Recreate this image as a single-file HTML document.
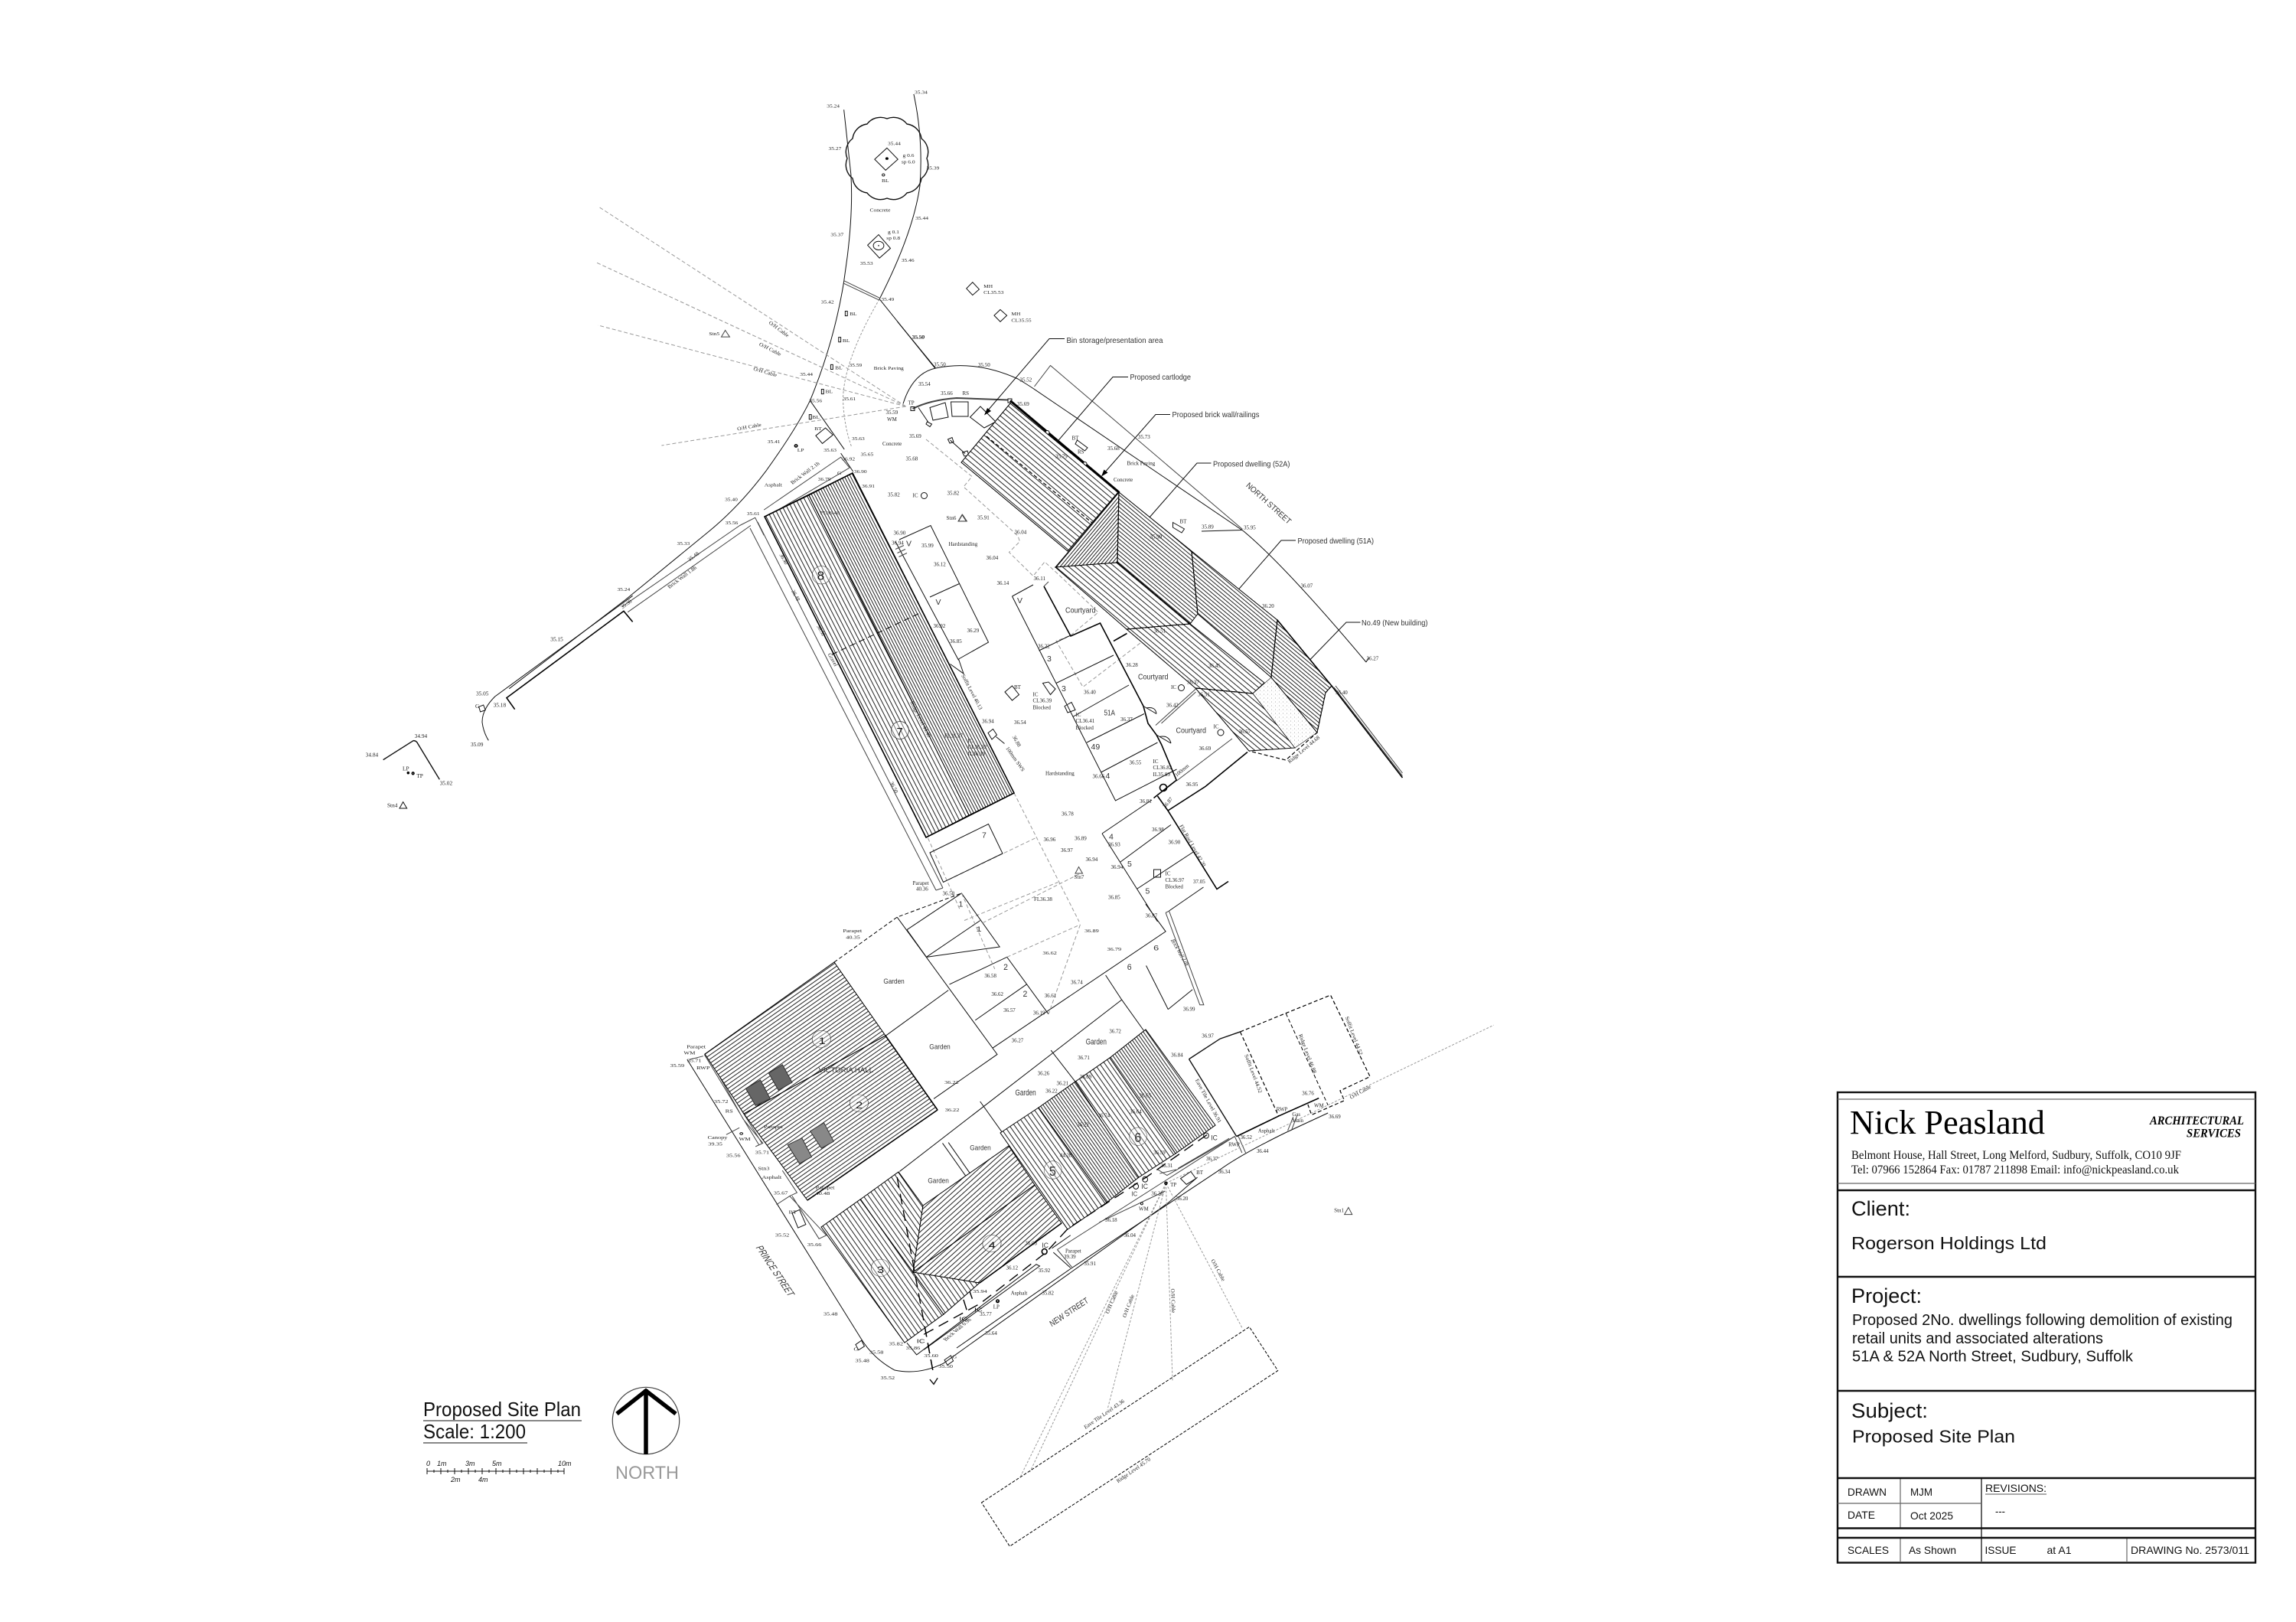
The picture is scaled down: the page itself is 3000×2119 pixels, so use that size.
<!DOCTYPE html>
<html><head><meta charset="utf-8"><style>
html,body{margin:0;padding:0;background:#fff}
svg{display:block}
text{font-family:"Liberation Serif",serif;fill:#222}
.sans{font-family:"Liberation Sans",sans-serif;fill:#111}
.bs text{font-family:"Liberation Sans",sans-serif;fill:#333}
.g *{vector-effect:non-scaling-stroke}
.l{fill:none;stroke:#111;stroke-width:1}
.b{fill:none;stroke:#000;stroke-width:1.6}
.m{fill:none;stroke:#444;stroke-width:1}
.d{fill:none;stroke:#999;stroke-width:1;stroke-dasharray:5 3}
.c{fill:none;stroke:#999;stroke-width:1;stroke-dasharray:3 2}
.k{fill:none;stroke:#000;stroke-width:1.2;stroke-dasharray:5 3}
.h{fill:none;stroke:#000;stroke-width:1.4;stroke-dasharray:14 8}
.r{stroke:#000;stroke-width:1}
</style></head><body>
<svg xmlns="http://www.w3.org/2000/svg" width="3000" height="2119" viewBox="0 0 3000 2119">
<defs>
<pattern id="a63" patternUnits="userSpaceOnUse" width="5" height="5" patternTransform="rotate(-27)"><rect width="5" height="5" fill="#fff"/><rect width="1" height="5" fill="#222"/></pattern>
<pattern id="a63d" patternUnits="userSpaceOnUse" width="3.5" height="3.5" patternTransform="rotate(-27)"><rect width="3.5" height="3.5" fill="#fff"/><rect width="1" height="3.5" fill="#222"/></pattern>
<pattern id="a40" patternUnits="userSpaceOnUse" width="5.5" height="5.5" patternTransform="rotate(-50)"><rect width="5.5" height="5.5" fill="#fff"/><rect width="1" height="5.5" fill="#222"/></pattern>
<pattern id="a40d" patternUnits="userSpaceOnUse" width="4" height="4" patternTransform="rotate(-50)"><rect width="4" height="4" fill="#fff"/><rect width="1" height="4" fill="#222"/></pattern>
<pattern id="b40" patternUnits="userSpaceOnUse" width="3.5" height="3.5" patternTransform="rotate(40)"><rect width="3.5" height="3.5" fill="#fff"/><rect width="1" height="3.5" fill="#222"/></pattern>
<pattern id="h35" patternUnits="userSpaceOnUse" width="4.5" height="4.5" patternTransform="rotate(55)"><rect width="4.5" height="4.5" fill="#fff"/><rect width="1" height="4.5" fill="#222"/></pattern>
<pattern id="s54" patternUnits="userSpaceOnUse" width="5.5" height="5.5" patternTransform="rotate(-35)"><rect width="5.5" height="5.5" fill="#fff"/><rect width="1" height="5.5" fill="#222"/></pattern>
<pattern id="s54d" patternUnits="userSpaceOnUse" width="3.6" height="3.6" patternTransform="rotate(-35)"><rect width="3.6" height="3.6" fill="#fff"/><rect width="1" height="3.6" fill="#222"/></pattern>
<pattern id="v48" patternUnits="userSpaceOnUse" width="5" height="5" patternTransform="rotate(48)"><rect width="5" height="5" fill="#fff"/><rect width="1" height="5" fill="#222"/></pattern>
<pattern id="st" patternUnits="userSpaceOnUse" width="5" height="5"><rect width="5" height="5" fill="#fff"/><circle cx="1.5" cy="2" r=".5" fill="#888"/><circle cx="4" cy="4" r=".4" fill="#aaa"/></pattern>
</defs>

<!-- Z2 lines -->
<g class="g" transform="translate(450 100) scale(.574 .51)">
<path class="l" d="M1137,85 L1153,250 Q1158,340 1145,460 L1137,525 Q1115,680 1060,830 Q1030,900 960,1010 Q900,1100 830,1165 L640,1340 L375,1568"/>
<path class="l" d="M1296,45 Q1318,160 1310,280 Q1295,400 1218,570 L1345,748"/>
<path class="c" d="M1218,570 Q1135,730 1135,830 Q1138,900 1155,950"/>
<path class="m" d="M1137,523 L1218,567 M1137,530 L1218,573"/>
<path class="l" d="M1060,830 L1138,955 M1130,965 L1158,1012"/>
<path class="m" d="M955,1110 L1130,975 L1150,1002 M965,1125 L1150,1002"/>
<path class="m" d="M645,1372 L925,1150 M632,1358 L900,1150 M900,1150 L935,1130 L955,1175"/>
<path class="d" d="M1278,845 L578,333 M1278,845 L575,477 M1278,845 L577,637 M1278,845 L722,945"/>
<path class="l" d="M1235,183 L1260,212 L1232,240 L1207,212Z M1216,405 L1243,440 L1218,465 L1191,432Z M1430,527 L1445,545 L1430,560 L1416,543Z M1493,597 L1508,612 L1493,628 L1479,612Z M1073,920 L1095,900 L1112,918 L1088,940Z"/>
<ellipse cx="1216" cy="433" rx="12" ry="11" class="l"/><circle cx="1235" cy="210" r="3.5" fill="#000"/><circle cx="1216" cy="433" r="1.5" fill="#000"/>
<circle cx="1227" cy="252" r="3" class="l"/><circle cx="1028" cy="946" r="3" class="b"/>
<path class="l" d="M1140,601h5v12h-5z M1125,668h5v12h-5z M1107,738h5v12h-5z M1086,801h5v12h-5z M1058,866h5v12h-5z"/>
<path class="m" d="M867,650 L877,667 L858,667Z M1407,1122 L1417,1139 L1398,1139Z"/>
</g>
<path class="l" d="M1107,207 A22,22 0 0 1 1114,181 A22,22 0 0 1 1133,162 A22,22 0 0 1 1159,155 A22,22 0 0 1 1185,162 A22,22 0 0 1 1204,181 A22,22 0 0 1 1211,207 A22,22 0 0 1 1204,233 A22,22 0 0 1 1185,252 A22,22 0 0 1 1159,259 A22,22 0 0 1 1133,252 A22,22 0 0 1 1114,233 A22,22 0 0 1 1107,207Z" style="stroke-width:1.4"/>
<!-- wall beside building 7/8 -->
<path class="m" d="M980,690 L1223,1163 M990,682 L1232,1160 M1223,1163 L1232,1160"/>

<!-- Z8 lines -->
<g class="g" transform="translate(450 780) scale(.3333)">
<path class="l" d="M1130,-5 L590,390 Q540,440 540,490 Q545,530 565,562"/>
<path class="b" d="M1130,97 L1095,55 L636,395 L668,440"/>
<path class="l" style="stroke-width:1.4" d="M152,638 L270,563 Q282,562 288,575 L373,715"/>
<path class="l" d="M527,430 L545,423 L553,443 L533,450Z M230,803 L245,828 L216,828Z"/>
<circle cx="250" cy="689" r="3" class="b"/><circle cx="269" cy="691" r="4" class="b"/>
</g>

<!-- Z7 lines -->
<g class="g" transform="translate(1150 420) scale(.5)">
<path class="l" d="M45,0 L145,122 M60,215 Q85,135 145,122 Q250,100 360,150 Q385,165 400,175 L950,548 Q1060,640 1270,890 M840,548 L945,545 M1270,890 L1277,878"/>
<path class="m" d="M403,170 L445,115 L947,543"/>
<path class="m" style="stroke-width:2" d="M85,228 Q130,205 200,200 L335,205"/>
<path class="b" style="stroke-width:3" d="M340,207 L625,447"/>
<path class="l" fill="#fff" d="M80,223h10v10h-10z M334,202h10v10h-10z"/>
<circle cx="437" cy="290" r="5" fill="#fff" stroke="#000"/><circle cx="535" cy="372" r="5" fill="#fff" stroke="#000"/>
<path class="l" d="M100,225 L125,262 M123,262 L135,268 L130,275 L120,268Z M183,310 L222,345 M177,308 L188,303 L192,315 L182,318Z M215,342 L228,338 L232,350 L220,352Z M130,225 L170,212 L178,250 L138,258Z M185,210 L230,210 L230,248 L188,248Z M262,222 L302,262 L272,278 L235,250Z M515,310 L542,330 L535,338 L510,320Z M765,525 L795,542 L788,552 L765,538Z"/>
<path class="d" d="M120,308 L240,405 L218,432 L360,560 L365,575 L337,603 L400,665 L430,628 L465,660 L570,760 L498,820 L460,835 L530,955 L680,840 M165,1465 L405,1350 M350,1232 L520,1568 M125,1350 L210,1540 M220,1565 L465,1465"/>
<path class="b" d="M428,692 L498,822 L575,788 L688,1005 L700,1050 L722,1080 L735,1105 L775,1200 M610,835 L645,815"/>
<path class="m" d="M440,680 L428,692 M720,1055 L825,960 M775,1200 L920,1090 M735,1050 L825,968"/>
<path class="l" d="M345,718 L615,1252 L775,1170 M345,718 L400,688 M415,860 L498,820 M460,945 L610,872 M505,1032 L650,950 M540,1100 L690,1025 M577,1178 L725,1100"/>
<path class="l" d="M695,1010 Q720,1005 722,1025 M688,1005 L722,1025 M730,1085 Q755,1080 760,1102 M722,1080 L760,1102"/>
<circle cx="740" cy="1218" r="9" class="b"/><path class="b" d="M715,1245 L775,1198"/>
<path class="b" d="M960,1125 L850,1215 L752,1278 M725,1240 L752,1278 L880,1483 L910,1463"/>
<path class="l" d="M580,1338 L710,1250 M580,1338 L725,1568 M628,1412 L760,1315 M672,1482 L820,1385 M755,1540 L845,1478"/>
<path class="l" d="M130,1388 L283,1313 L320,1390 L165,1465Z"/>
<path class="l" d="M50,570 L132,533 L283,838 L205,882 M130,720 L207,685 M205,882 L218,920 L183,895 M40,575 L205,885"/>
<path class="m" d="M40,595 L62,585 M45,605 L66,595 M49,615 L70,605"/>
<path class="l" d="M425,945 L445,975 L458,960 L440,942Z M482,1005 L500,995 L510,1015 L490,1022Z M326,968 L345,952 L363,975 L345,990Z M282,1075 L295,1065 L305,1080 L292,1092Z M715,1432h18v20h-18z M303,1085 L325,1103"/>
<path class="m" d="M519,1425 L529,1442 L510,1442Z M214,505 L225,522 L204,522Z"/>
<circle cx="115" cy="455" r="8" class="l"/><circle cx="787" cy="957" r="8" class="l"/><circle cx="890" cy="1074" r="8" class="l"/>
<path class="l" d="M275,240 L442,45 L482,45 M445,335 L608,145 L648,145 M582,400 L720,243 L758,243 M688,530 L828,370 L865,370 M908,733 L1048,572 L1086,572 M1098,910 L1218,786 L1255,786"/>
<path fill="#000" d="M272,245 L280,226 L290,234Z M440,342 L447,322 L457,330Z M578,405 L585,387 L595,395Z M684,535 L692,515 L702,523Z M904,738 L912,718 L922,726Z M1095,913 L1103,893 L1113,901Z"/>
<path class="b" d="M1180,952 L1365,1192"/><path class="m" d="M1190,952 L1365,1180 M1186,956 L1365,1187"/>
</g>

<!-- Z4 lines -->
<g class="g" transform="translate(850 1150) scale(.638 .446)">
<path class="k" d="M376,240 L505,108 L637,38" style="stroke-width:1"/>
<path class="l" d="M505,108 L710,510 L580,640 M610,322 L482,455 M525,145 L637,38 L715,195 L565,225 M525,145 L565,225 L675,118 M612,305 L730,225 L815,392 M665,410 L770,305 M700,492 L1055,150 L1014,70 M1015,250 L1060,378 M932,278 L965,350 M820,498 L870,590 M675,648 L720,738 M965,350 L1010,440 M510,853 L965,350 M598,770 L645,865 M610,768 L655,860 M1060,378 L1110,320"/>
<path class="m" d="M1055,95 L1125,365 L1133,365 L1062,90 L1055,95"/>
<path class="d" d="M637,38 L705,260 M680,125 L880,-20 M880,130 L815,392 M730,225 L880,130"/>
<path class="l" d="M75,525 L260,950 L430,1340 Q455,1400 500,1435 Q550,1450 600,1415 L1060,945 L1120,870"/>
<path class="m" d="M108,515 L80,525 M120,520 L228,770 M110,510 L222,775 M190,700 L230,770 L215,780 M270,850 L300,915 L285,925 L360,1040 L345,1050 L290,925 M258,950 L285,925 M120,520 L190,700 M155,745 L182,725"/>
<path class="l" d="M525,1355 L545,1390 L790,1125 L797,1130 L560,1375"/>
<path class="h" d="M505,870 L580,1450 M600,1040 L650,1270 M640,1150 L660,1230 M438,1155 L560,1330"/>
<path class="l" style="stroke-width:1.4" d="M572,1462 L580,1476 L588,1458"/>
<path class="l" d="M860,1135 L825,1090 M822,1078 L860,1040 M290,975 L305,965 L318,1008 L302,1018Z M420,1360 L432,1348 L438,1365 L426,1376Z M602,1405 L615,1392 L620,1408 L608,1420Z"/>
<circle cx="711" cy="1232" r="3" class="l"/><circle cx="186" cy="742" r="3" class="l"/>
</g>

<!-- Z5 lines -->
<g class="g" transform="translate(1250 1250) scale(.478 .51)">
<path class="l" d="M0,1002 L310,800 L720,545 Q780,505 900,450 L1015,400"/>
<path class="m" d="M275,750 L760,460 M275,750 L315,795 M780,502 L760,460 M790,502 L770,460 M905,445 L920,410 M915,445 L930,408"/>
<path class="l" style="stroke-width:1.4" d="M635,262 L720,210 L775,192 M635,262 L765,460"/>
<path class="b" d="M765,460 L880,408 L990,362"/>
<path class="k" d="M775,192 L1022,98 L1130,307 L1048,343 L1060,368 L970,405 L960,378"/>
<path class="k" d="M775,192 L880,408" style="stroke-width:1.2"/>
<path class="k" d="M900,145 L1015,380" style="stroke-width:1"/>
<path class="k" d="M68,1398 L800,948 L878,1060 L145,1510Z" style="stroke-width:1;stroke-dasharray:4 2"/>
<path class="c" d="M572,580 L175,1330 M572,580 L200,1320 M572,580 L412,1160 M572,580 L590,1085 M572,580 L780,950 M572,580 L1468,175"/>
<path class="m" d="M550,545 L575,560 L760,460 M555,555 L600,545 M390,680 L570,600 M605,542 L745,465"/>
<path class="l" d="M612,568 L640,550 L654,568 L628,583Z"/>
<circle cx="572" cy="580" r="3" class="b"/><circle cx="506" cy="632" r="3" class="l"/><circle cx="112" cy="882" r="3.5" class="b"/>
<circle cx="240" cy="755" r="7" class="b"/><circle cx="515" cy="570" r="7" class="l"/><circle cx="490" cy="588" r="7" class="l"/><circle cx="682" cy="458" r="7" class="l"/>
<path class="m" d="M1071,642 L1081,660 L1060,660Z"/>
</g>

<!-- Roofs -->
<g class="r">
<polygon fill="url(#a63)" points="999,675 1057,647 1266,1065 1210,1094"/>
<polygon fill="url(#a63d)" points="1057,647 1114,618 1325,1036 1266,1065"/>
<polygon fill="url(#a40)" points="1320,527 1461,643 1395,720 1256,604"/>
<polygon fill="url(#b40)" points="1462,643 1379,741 1460,735"/>
<polygon fill="url(#a40d)" points="1462,643 1557,720 1565,802 1555,815 1460,735"/>
<polygon fill="url(#a40)" points="1379,741 1460,735 1555,815 1472,822"/>
<polygon fill="url(#a40d)" points="1557,720 1669,810 1661,885 1565,802"/>
<polygon fill="url(#a40)" points="1472,822 1555,815 1652,892 1637,906 1562,899"/>
<polygon fill="url(#a40)" points="1562,899 1637,906 1692,977 1632,981"/>
<polygon fill="url(#st)" stroke-width=".6" points="1637,906 1661,885 1721,957 1692,977"/>
<polygon fill="url(#a40d)" points="1669,810 1740,896 1732,905 1721,957 1661,885"/>
<polygon fill="url(#h35)" points="1090,1257 1157,1353 972,1455 921,1377"/>
<polygon fill="url(#h35)" points="1157,1353 1225,1450 1055,1568 972,1455"/>
<polygon fill="url(#s54)" points="1073,1603 1124,1567 1233,1717 1182,1754"/>
<polygon fill="url(#s54)" points="1124,1567 1174,1531 1206,1575 1193,1662 1280,1676 1233,1717"/>
<polygon fill="url(#v48)" points="1206,1575 1318,1497 1352,1548 1193,1662"/>
<polygon fill="url(#v48)" points="1193,1662 1352,1548 1387,1598 1280,1676"/>
<polygon fill="url(#s54)" points="1307,1480 1357,1447 1446,1571 1395,1606"/>
<polygon fill="url(#s54d)" points="1357,1447 1405,1413 1488,1538 1446,1571"/>
<polygon fill="url(#s54)" points="1405,1413 1450,1382 1536,1507 1488,1538"/>
<polygon fill="url(#s54d)" points="1450,1382 1497,1345 1588,1470 1536,1507"/>
</g>
<path class="k" d="M1740,896 L1732,905 L1721,957 L1680,993 L1632,981"/>
<path class="b" d="M1669,810 L1740,896 M999,675 L1114,618 L1325,1036 L1210,1094Z M1225,1450 L1055,1568 M1157,1353 L1225,1450 M1280,1676 L1387,1598"/>
<path fill="none" stroke="#000" stroke-width="1" stroke-dasharray="8 5" d="M1087,855 L1206,799"/>
<path class="k" d="M1289,570 L1427,683 M1462,643 L1460,735 M1557,720 L1565,802 M1669,810 L1661,885 M1460,735 L1555,815 M1562,899 L1637,906 M1472,822 L1555,815"/>

<!-- Skylights and heavy drain dashes -->
<g class="g" transform="translate(850 1150) scale(.638 .446)" stroke="#333">
<polygon fill="#666" points="195,610 225,585 245,640 215,660"/>
<polygon fill="#666" points="242,565 270,540 290,592 262,615"/>
<polygon fill="#888" points="281,775 310,755 330,810 305,830"/>
<polygon fill="#888" points="327,735 355,710 375,765 350,785"/>
<path class="h" d="M560,1330 L675,1240 L810,1090 L855,1020 L1015,870 L1140,745"/>
<path class="h" d="M505,870 L580,1450"/>
</g>

<!-- Z2 text -->
<g transform="translate(450 100) scale(.574 .51)" font-size="13">
<text x="1098" y="79">35.24</text><text x="1298" y="44">35.34</text><text x="1237" y="176">35.44</text><text x="1271" y="206">g 0.6</text><text x="1268" y="223">sp 6.0</text><text x="1102" y="188">35.27</text><text x="1325" y="238">35.39</text><text x="1223" y="271">BL</text><text x="1196" y="346">Concrete</text><text x="1300" y="367">35.44</text><text x="1107" y="409">35.37</text><text x="1237" y="402">g 0.1</text><text x="1234" y="418">sp 0.8</text><text x="1174" y="482">35.53</text><text x="1268" y="475">35.46</text><text x="1085" y="581">35.42</text><text x="1222" y="575">35.49</text><text x="1455" y="541">MH</text><text x="1455" y="557">CL35.53</text><text x="1518" y="612">MH</text><text x="1518" y="628">CL35.55</text><text x="1150" y="612">BL</text><text x="1134" y="680">BL</text><text x="1292" y="671">35.50</text>
<text x="965" y="632" transform="rotate(40 965 632)">O/H Cable</text><text x="943" y="688" transform="rotate(30 943 688)">O/H Cable</text><text x="930" y="752" transform="rotate(18 930 752)">O/H Cable</text>
<text x="830" y="663">Stn5</text><text x="1149" y="743">35.59</text><text x="1117" y="750">BL</text><text x="1205" y="751">Brick Paving</text><text x="1037" y="767">35.44</text><text x="1095" y="811">BL</text><text x="1135" y="829">35.61</text><text x="1058" y="834">35.56</text><text x="1065" y="876">BL</text><text x="1070" y="906">BT</text><text x="895" y="907" transform="rotate(-12 895 907)">O/H Cable</text><text x="963" y="939">35.41</text><text x="1031" y="961">LP</text><text x="1155" y="931">35.63</text><text x="1091" y="961">35.63</text><text x="1133" y="983">36.92</text><text x="1175" y="972">35.65</text>
<text x="1020" y="1045" transform="rotate(-40 1020 1045)">Brick Wall 2.1h</text><text x="1078" y="1035">36.79</text><text x="956" y="1050">Asphalt</text><text x="1122" y="1020">G</text><text x="1160" y="1016">36.90</text><text x="1178" y="1053">36.91</text><text x="866" y="1087">35.40</text><text x="916" y="1124">35.61</text><text x="867" y="1147">35.56</text><text x="1083" y="1122">FL36.40</text><text x="757" y="1200">35.33</text><text x="786" y="1242" transform="rotate(-40 786 1242)">35.48</text><text x="740" y="1312" transform="rotate(-40 740 1312)">Brick Wall 1.8h</text><text x="621" y="1318">35.24</text><text x="633" y="1364" transform="rotate(-40 633 1364)">35.38</text><text x="990" y="1225" transform="rotate(63 990 1225)">36.40</text><text x="1017" y="1318" transform="rotate(63 1017 1318)">36.48</text><text x="1075" y="1408" transform="rotate(63 1075 1408)">36.52</text><text x="1100" y="1480" transform="rotate(63 1100 1480)">Gravel</text>
<ellipse cx="1086" cy="1277" rx="21" ry="23" fill="#fff" fill-opacity=".35" stroke="#333"/><text x="1076" y="1289" font-size="30" class="sans">8</text>
</g>

<!-- Z8 text -->
<g transform="translate(450 780) scale(.3333)" font-size="22">
<text x="808" y="172">35.15</text><text x="516" y="385">35.05</text><text x="513" y="435">G</text><text x="584" y="430">35.18</text><text x="495" y="585">35.09</text><text x="275" y="552">34.94</text><text x="83" y="626">34.84</text><text x="228" y="680">LP</text><text x="283" y="708">TP</text><text x="374" y="737">35.02</text><text x="168" y="823">Stn4</text>
</g>

<!-- Z7 text -->
<g transform="translate(1150 420) scale(.5)" font-size="14">
<g class="bs" font-size="21">
<text x="487" y="56" textLength="252" lengthAdjust="spacingAndGlyphs">Bin storage/presentation area</text>
<text x="653" y="152" textLength="159" lengthAdjust="spacingAndGlyphs">Proposed cartlodge</text>
<text x="763" y="250" textLength="228" lengthAdjust="spacingAndGlyphs">Proposed brick wall/railings</text>
<text x="870" y="379" textLength="201" lengthAdjust="spacingAndGlyphs">Proposed dwelling (52A)</text>
<text x="1091" y="580" textLength="199" lengthAdjust="spacingAndGlyphs">Proposed dwelling (51A)</text>
<text x="1258" y="794" textLength="173" lengthAdjust="spacingAndGlyphs">No.49 (New building)</text>
<text x="955" y="430" transform="rotate(42 955 430)" textLength="150" lengthAdjust="spacingAndGlyphs">NORTH STREET</text>
<text x="484" y="761" textLength="79" lengthAdjust="spacingAndGlyphs">Courtyard</text>
<text x="674" y="935" textLength="79" lengthAdjust="spacingAndGlyphs">Courtyard</text>
<text x="773" y="1075" textLength="79" lengthAdjust="spacingAndGlyphs">Courtyard</text>
<text x="68" y="587">V</text><text x="145" y="740">V</text><text x="358" y="736">V</text><text x="436" y="888">3</text><text x="474" y="966">3</text><text x="585" y="1029" textLength="29" lengthAdjust="spacingAndGlyphs">51A</text><text x="551" y="1118">49</text><text x="589" y="1194">4</text><text x="598" y="1353">4</text><text x="646" y="1424">5</text><text x="693" y="1495">5</text><text x="266" y="1349">7</text><text x="205" y="1529">1</text>
</g>
<text x="84" y="46">35.50</text><text x="140" y="117">35.50</text><text x="256" y="118">35.50</text><text x="100" y="168">35.54</text><text x="365" y="157">35.52</text><text x="158" y="192">35.66</text><text x="215" y="192">RS</text><text x="73" y="217">TP</text><text x="358" y="220">35.69</text><text x="15" y="242">35.59</text><text x="18" y="260">WM</text><text x="76" y="304">35.69</text><text x="6" y="324">Concrete</text><text x="67" y="363">35.68</text><text x="501" y="309">BT</text><text x="594" y="336">35.68</text><text x="674" y="306">35.73</text><text x="516" y="345">RS</text><text x="458" y="357">35.79</text><text x="645" y="375">Brick Paving</text><text x="610" y="418">Concrete</text><text x="20" y="457">35.82</text><text x="85" y="459">IC</text><text x="175" y="453">35.82</text><text x="173" y="518">Stn6</text><text x="254" y="517">35.91</text><text x="783" y="527">BT</text><text x="840" y="541">35.89</text><text x="950" y="543">35.95</text><text x="705" y="567">35.99</text><text x="35" y="557">36.90</text><text x="351" y="555">36.04</text><text x="30" y="583">36.94</text><text x="108" y="590">35.99</text><text x="179" y="586">Hardstanding</text><text x="277" y="622">36.04</text><text x="140" y="639">36.12</text><text x="305" y="688">36.14</text><text x="401" y="676">36.11</text><text x="1099" y="695">36.07</text><text x="998" y="748">36.20</text><text x="139" y="800">36.92</text><text x="715" y="813">36.51</text><text x="227" y="812">36.29</text><text x="182" y="840">36.85</text><text x="412" y="853">36.22</text><text x="1271" y="885">36.27</text><text x="642" y="902">36.28</text><text x="858" y="904">36.45</text><text x="802" y="947">36.37</text><text x="760" y="960">IC</text><text x="350" y="960">BT</text><text x="399" y="979">IC</text><text x="532" y="973">36.40</text><text x="830" y="979">36.51</text><text x="399" y="995">CL36.39</text><text x="399" y="1013">Blocked</text><text x="1190" y="974">36.40</text><text x="748" y="1007">36.42</text><text x="511" y="1032">IC</text><text x="511" y="1048">CL36.41</text><text x="511" y="1066">Blocked</text><text x="628" y="1044">36.37</text><text x="871" y="1063">IC</text><text x="937" y="1076">36.57</text><text x="266" y="1049">36.94</text><text x="350" y="1052">36.54</text><text x="345" y="1085" transform="rotate(60 345 1085)">36.88</text><text x="328" y="1115" transform="rotate(55 328 1115)">100mm SWS</text><text x="168" y="1087">FL36.37</text><text x="229" y="1100">IC</text><text x="229" y="1116">CL36.92</text><text x="229" y="1134">IL36.39</text><text x="78" y="995" transform="rotate(63 78 995)">Ridge Level 44.48</text><text x="833" y="1120">36.69</text><text x="1070" y="1155" transform="rotate(-40 1070 1155)">Ridge Level 44.68</text><text x="212" y="925" transform="rotate(62 212 925)">Soffit Level 40.13</text><text x="713" y="1154">IC</text><text x="713" y="1170">CL36.82</text><text x="713" y="1188">IL35.89</text><text x="432" y="1185">Hardstanding</text><text x="651" y="1157">36.55</text><text x="555" y="1193">36.66</text><text x="799" y="1214">36.95</text><text x="775" y="1190" transform="rotate(-40 775 1190)">100mm</text><text x="25" y="1205" transform="rotate(63 25 1205)">36.50</text><text x="678" y="1258">36.81</text><text x="745" y="1272" transform="rotate(-50 745 1272)">36.87</text><text x="474" y="1291">36.78</text><text x="782" y="1318" transform="rotate(60 782 1318)">Flat Roof Level 42.20</text><text x="710" y="1332">36.98</text><text x="427" y="1358">36.96</text><text x="508" y="1355">36.89</text><text x="753" y="1365">36.90</text><text x="472" y="1386">36.97</text><text x="596" y="1371">36.93</text><text x="537" y="1410">36.94</text><text x="603" y="1430">36.94</text><text x="745" y="1447">IC</text><text x="745" y="1464">CL36.97</text><text x="745" y="1481">Blocked</text><text x="507" y="1456">Stn7</text><text x="818" y="1468">37.05</text><text x="85" y="1472">Parapet</text><text x="94" y="1487">40.36</text><text x="163" y="1499">36.58</text><text x="402" y="1514">FL36.38</text><text x="596" y="1509">36.85</text><text x="693" y="1557">36.87</text>
<circle cx="52" cy="1068" r="23" fill="#fff" fill-opacity=".35" stroke="#333" stroke-width="1.5"/><text class="sans" x="43" y="1082" font-size="30">7</text>
</g>

<!-- Z4 text -->
<g transform="translate(850 1150) scale(.638 .446)" font-size="13">
<g class="bs" font-size="20">
<text x="477" y="303" textLength="43" lengthAdjust="spacingAndGlyphs">Garden</text><text x="571" y="494" textLength="43" lengthAdjust="spacingAndGlyphs">Garden</text><text x="568" y="887" textLength="43" lengthAdjust="spacingAndGlyphs">Garden</text><text x="654" y="790" textLength="43" lengthAdjust="spacingAndGlyphs">Garden</text>
<text x="344" y="563" font-size="20" textLength="112" lengthAdjust="spacingAndGlyphs">VICTORIA HALL</text>
<text x="1030" y="205">6</text>
<text x="215" y="1075" transform="rotate(65 215 1075)" textLength="160" font-size="22" lengthAdjust="spacingAndGlyphs">PRINCE STREET</text>
<text x="667" y="150">1</text>
</g>
<text x="394" y="152">Parapet</text><text x="400" y="171">40.35</text><text x="74" y="492">Parapet</text><text x="68" y="510">WM</text><text x="75" y="532">35.71</text><text x="40" y="547">35.59</text><text x="94" y="554">RWP</text><text x="130" y="652">35.72</text><text x="153" y="680">RS</text><text x="232" y="727">Parapet</text><text x="117" y="758">Canopy</text><text x="118" y="777">39.35</text><text x="181" y="762">WM</text><text x="155" y="810">35.56</text><text x="214" y="802">35.71</text><text x="220" y="849">Stn3</text><text x="228" y="874">Asphalt</text><text x="338" y="905">Parapet</text><text x="338" y="922">40.48</text><text x="252" y="920">35.67</text><text x="283" y="976">BT</text><text x="255" y="1044">35.52</text><text x="321" y="1072">35.66</text><text x="354" y="1275">35.48</text><text x="488" y="1362">35.82</text><text x="523" y="1375">35.86</text><text x="545" y="1355" class="sans" font-size="17">IC</text><text x="560" y="1397">35.60</text><text x="448" y="1387">35.58</text><text x="419" y="1411">35.48</text><text x="471" y="1462">35.52</text><text x="590" y="1428">35.50</text><text x="416" y="1378">G</text><text x="618" y="1400">G</text><text x="605" y="1350" transform="rotate(-50 605 1350)">Brick Wall 0.9h</text><text x="632" y="1290" class="sans" font-size="17">IC</text><text x="663" y="1263" class="sans" font-size="17">IC</text><text x="660" y="1208">35.94</text><text x="602" y="596">36.22</text><text x="603" y="677">36.22</text><text x="889" y="152">36.89</text><text x="803" y="218">36.62</text><text x="935" y="206">36.79</text><text x="1065" y="175" transform="rotate(68 1065 175)">Brick Wall 2.0h</text>
<ellipse cx="350" cy="465" rx="19" ry="25" fill="#fff" fill-opacity=".35" stroke="#333"/><text class="sans" x="344" y="480" font-size="26">1</text>
<ellipse cx="427" cy="653" rx="19" ry="25" fill="#fff" fill-opacity=".35" stroke="#333"/><text class="sans" x="420" y="668" font-size="26">2</text>
<ellipse cx="471" cy="1135" rx="19" ry="25" fill="#fff" fill-opacity=".35" stroke="#333"/><text class="sans" x="464" y="1150" font-size="26">3</text>
<ellipse cx="699" cy="1064" rx="19" ry="25" fill="#fff" fill-opacity=".35" stroke="#333"/><text class="sans" x="692" y="1079" font-size="26">4</text>
</g>

<!-- Z5 text -->
<g transform="translate(1250 1250) scale(.478 .51)" font-size="14.5">
<g class="bs" font-size="22">
<text x="353" y="225" textLength="57" lengthAdjust="spacingAndGlyphs">Garden</text><text x="160" y="355" textLength="57" lengthAdjust="spacingAndGlyphs">Garden</text>
<text x="260" y="948" transform="rotate(-32 260 948)" textLength="120" lengthAdjust="spacingAndGlyphs">NEW STREET</text>
<text x="466" y="33">6</text><text x="128" y="33">2</text><text x="181" y="102">2</text>
<text x="695" y="470" font-size="18">IC</text><text x="505" y="594" font-size="18">IC</text><text x="478" y="613" font-size="16">IC</text><text x="233" y="745" font-size="18">IC</text>
</g>
<text x="670" y="207">36.97</text><text x="586" y="256">36.84</text><text x="417" y="195">36.72</text><text x="331" y="263">36.71</text><text x="221" y="303">36.26</text><text x="273" y="328">36.21</text><text x="336" y="312">36.69</text><text x="243" y="348">36.22</text><text x="499" y="360">36.65</text><text x="329" y="434">36.22</text><text x="386" y="411">36.74</text><text x="473" y="401">36.64</text><text x="282" y="513">44.28</text><text x="538" y="506">36.59</text><text x="558" y="539">36.31</text><text x="743" y="485">RWP</text><text x="775" y="467">36.52</text><text x="824" y="450">Asphalt</text><text x="682" y="522">36.37</text><text x="820" y="502">36.44</text><text x="655" y="557">BT</text><text x="715" y="555">36.34</text><text x="584" y="588">TP</text><text x="532" y="611">36.26</text><text x="600" y="624">36.20</text><text x="498" y="650">WM</text><text x="406" y="678">36.18</text><text x="457" y="718">36.04</text><text x="297" y="758">Parapet</text><text x="293" y="773">39.39</text><text x="348" y="790">35.91</text><text x="135" y="801">36.12</text><text x="223" y="808">35.92</text><text x="187" y="738">36.08</text><text x="148" y="866">Asphalt</text><text x="233" y="866">35.82</text><text x="100" y="901">LP</text><text x="63" y="920">35.77</text><text x="78" y="969">35.64</text><text x="415" y="915" transform="rotate(-65 415 915)">O/H Cable</text><text x="462" y="925" transform="rotate(-68 462 925)">O/H Cable</text><text x="586" y="850" transform="rotate(88 586 850)">O/H Cable</text><text x="695" y="778" transform="rotate(60 695 778)">O/H Cable</text><text x="352" y="1210" transform="rotate(-33 352 1210)">Eave Tile Level 43.36</text><text x="441" y="1348" transform="rotate(-33 441 1348)">Ridge Level 45.70</text><text x="652" y="316" transform="rotate(60 652 316)">Eave Tile Level 36.91</text><text x="787" y="252" transform="rotate(68 787 252)">Soffit Level 44.52</text><text x="935" y="200" transform="rotate(68 935 200)">Ridge Level 46.88</text><text x="1062" y="155" transform="rotate(68 1062 155)">Soffit Level 44.52</text><text x="944" y="354">36.76</text><text x="874" y="395">RWP</text><text x="917" y="408">Gas</text><text x="917" y="424">Main</text><text x="977" y="385">WM</text><text x="1078" y="365" transform="rotate(-28 1078 365)">O/H Cable</text><text x="1017" y="414">36.69</text><text x="1032" y="654">Stn1</text><text x="619" y="138">36.99</text><text x="76" y="53">36.58</text><text x="95" y="100">36.62</text><text x="312" y="70">36.74</text><text x="240" y="104">36.61</text><text x="128" y="141">36.57</text><text x="209" y="148">36.19</text><text x="150" y="219">36.27</text>
<ellipse cx="263" cy="546" rx="24" ry="23" fill="#fff" fill-opacity=".35" stroke="#333"/><text class="sans" x="253" y="561" font-size="34" style="fill:#333">5</text>
<ellipse cx="496" cy="460" rx="24" ry="23" fill="#fff" fill-opacity=".35" stroke="#333"/><text class="sans" x="486" y="475" font-size="34" style="fill:#333">6</text>
</g>

<!-- Scale / north -->
<g>
<text class="sans" x="553" y="1850" font-size="25.6" textLength="206" lengthAdjust="spacingAndGlyphs">Proposed Site Plan</text>
<line x1="553" y1="1856" x2="760" y2="1856" stroke="#888" stroke-width="2"/>
<text class="sans" x="553" y="1879" font-size="25.6" textLength="134" lengthAdjust="spacingAndGlyphs">Scale: 1:200</text>
<line x1="553" y1="1885" x2="689" y2="1885" stroke="#888" stroke-width="2"/>
<path class="l" d="M558,1922 H737 M558,1918V1926 M567,1920V1924 M576,1918V1926 M585,1920V1924 M594,1918V1926 M603,1920V1924 M612,1918V1926 M621,1920V1924 M630,1918V1926 M639,1920V1924 M648,1918V1926 M657,1920V1924 M666,1918V1926 M675,1920V1924 M684,1918V1926 M693,1920V1924 M702,1918V1926 M711,1920V1924 M720,1918V1926 M729,1920V1924 M737,1918V1926"/>
<g font-size="9" font-style="italic"><text class="sans" x="557" y="1915">0</text><text class="sans" x="571" y="1915">1m</text><text class="sans" x="608" y="1915">3m</text><text class="sans" x="643" y="1915">5m</text><text class="sans" x="729" y="1915">10m</text><text class="sans" x="589" y="1936">2m</text><text class="sans" x="625" y="1936">4m</text></g>
<circle cx="844" cy="1856" r="43.7" fill="none" stroke="#444" stroke-width="1.2"/>
<path d="M844,1815 V1900 M806,1847 L844,1817 L883,1847" fill="none" stroke="#000" stroke-width="5.5"/>
<text class="sans" x="804" y="1932" font-size="24" textLength="83" lengthAdjust="spacingAndGlyphs" style="fill:#999">NORTH</text>
</g>

<!-- Title block -->
<g>
<rect x="2401" y="1427" width="546" height="614.5" fill="none" stroke="#111" stroke-width="2.4"/>
<path fill="none" stroke="#666" stroke-width="1.2" d="M2401,1436H2947 M2401,1546H2947 M2401,1964H2589 M2483,1931V1996 M2483,2009V2041 M2779,2009V2041"/>
<path fill="none" stroke="#666" stroke-width="2" d="M2589,1931V2041"/>
<path fill="none" stroke="#111" stroke-width="2.4" d="M2401,1555H2947 M2401,1668H2947 M2401,1817H2947 M2401,1931H2947 M2401,1996.5H2947 M2401,2009H2947"/>
<text x="2417" y="1481" font-size="44.3" textLength="255" lengthAdjust="spacingAndGlyphs" style="fill:#000">Nick Peasland</text>
<text x="2809" y="1469" font-size="15.5" font-weight="bold" font-style="italic" textLength="123" lengthAdjust="spacingAndGlyphs" style="fill:#000">ARCHITECTURAL</text>
<text x="2857" y="1485.5" font-size="15.5" font-weight="bold" font-style="italic" textLength="71" lengthAdjust="spacingAndGlyphs" style="fill:#000">SERVICES</text>
<text x="2419" y="1514" font-size="16" textLength="431" lengthAdjust="spacingAndGlyphs" style="fill:#111">Belmont House, Hall Street, Long Melford, Sudbury, Suffolk, CO10 9JF</text>
<text x="2419" y="1533" font-size="16" textLength="428" lengthAdjust="spacingAndGlyphs" style="fill:#111">Tel: 07966 152864 Fax: 01787 211898 Email: info@nickpeasland.co.uk</text>
<text class="sans" x="2419" y="1588" font-size="26.5" textLength="77" lengthAdjust="spacingAndGlyphs">Client:</text>
<text class="sans" x="2419" y="1632" font-size="23.5" textLength="255" lengthAdjust="spacingAndGlyphs">Rogerson Holdings Ltd</text>
<text class="sans" x="2419" y="1702" font-size="26.5" textLength="92" lengthAdjust="spacingAndGlyphs">Project:</text>
<text class="sans" x="2420" y="1731" font-size="20.5" textLength="497" lengthAdjust="spacingAndGlyphs">Proposed 2No. dwellings following demolition of existing</text>
<text class="sans" x="2420" y="1755" font-size="20.5" textLength="328" lengthAdjust="spacingAndGlyphs">retail units and associated alterations</text>
<text class="sans" x="2420" y="1778.5" font-size="20.5" textLength="367" lengthAdjust="spacingAndGlyphs">51A &amp; 52A North Street, Sudbury, Suffolk</text>
<text class="sans" x="2419" y="1852" font-size="26.5" textLength="100" lengthAdjust="spacingAndGlyphs">Subject:</text>
<text class="sans" x="2420" y="1884.5" font-size="23.5" textLength="213" lengthAdjust="spacingAndGlyphs">Proposed Site Plan</text>
<text class="sans" x="2414" y="1954" font-size="14" textLength="51" lengthAdjust="spacingAndGlyphs">DRAWN</text>
<text class="sans" x="2496" y="1954" font-size="14" textLength="29" lengthAdjust="spacingAndGlyphs">MJM</text>
<text class="sans" x="2414" y="1984" font-size="14" textLength="36" lengthAdjust="spacingAndGlyphs">DATE</text>
<text class="sans" x="2496" y="1985" font-size="14" textLength="56" lengthAdjust="spacingAndGlyphs">Oct 2025</text>
<text class="sans" x="2594" y="1949" font-size="14" textLength="80" lengthAdjust="spacingAndGlyphs">REVISIONS:</text>
<line x1="2594" y1="1952" x2="2674" y2="1952" stroke="#555" stroke-width="1"/>
<text class="sans" x="2607" y="1979" font-size="14" textLength="13" lengthAdjust="spacingAndGlyphs">---</text>
<text class="sans" x="2414" y="2030" font-size="14" textLength="54" lengthAdjust="spacingAndGlyphs">SCALES</text>
<text class="sans" x="2494" y="2030" font-size="14" textLength="62" lengthAdjust="spacingAndGlyphs">As Shown</text>
<text class="sans" x="2593.5" y="2030" font-size="14" textLength="41" lengthAdjust="spacingAndGlyphs">ISSUE</text>
<text class="sans" x="2674.5" y="2030" font-size="14" textLength="32" lengthAdjust="spacingAndGlyphs">at A1</text>
<text class="sans" x="2784" y="2030" font-size="14" textLength="155" lengthAdjust="spacingAndGlyphs">DRAWING No. 2573/011</text>
</g>
</svg>
</body></html>
